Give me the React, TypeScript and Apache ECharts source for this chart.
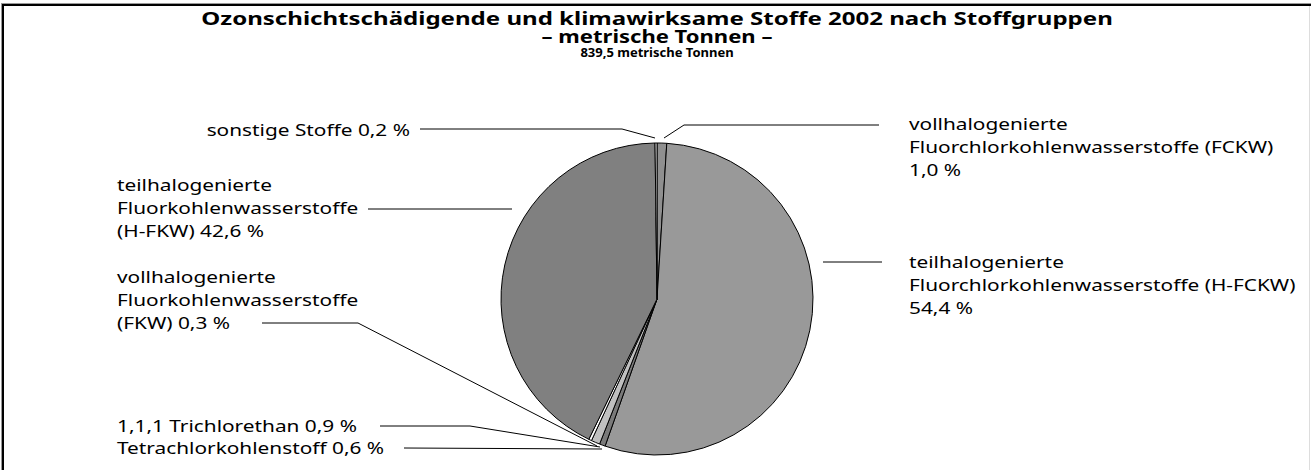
import React, { useEffect, useRef } from "react";
import * as echarts from "echarts";

const titleLines = [
  "Ozonschichtschädigende und klimawirksame Stoffe 2002 nach Stoffgruppen",
  "– metrische Tonnen –",
];
const subtitle = "839,5 metrische Tonnen";

// clockwise from 12 o'clock
const categories = [
  "vollhalogenierte\nFluorchlorkohlenwasserstoffe (FCKW)\n",
  "teilhalogenierte\nFluorchlorkohlenwasserstoffe (H-FCKW)\n",
  "Tetrachlorkohlenstoff ",
  "1,1,1 Trichlorethan ",
  "vollhalogenierte\nFluorkohlenwasserstoffe\n(FKW) ",
  "teilhalogenierte\nFluorkohlenwasserstoffe\n(H-FKW) ",
  "sonstige Stoffe ",
];
const shares = [1.0, 54.4, 0.6, 0.9, 0.3, 42.6, 0.2];
const sliceColors = ["#8f8f8f", "#999999", "#7a7a7a", "#c0c0c0", "#ffffff", "#808080", "#ffffff"];

// label layout (annotation positions)
const labelLayout = [
  { x: 909, y: 112, align: "left", line: [[664, 138], [684, 125], [879, 125]] },
  { x: 909, y: 250, align: "left", line: [[823, 262], [882, 262]] },
  { x: 117, y: 436, align: "left", line: [[404, 448], [602, 449]] },
  { x: 117, y: 414, align: "left", line: [[380, 426], [470, 426], [600, 447]] },
  { x: 117, y: 265, align: "left", line: [[262, 323], [358, 323], [597, 446]] },
  { x: 117, y: 173, align: "left", line: [[368, 209], [512, 209]] },
  { x: 410, y: 118, align: "right", line: [[420, 129], [622, 129], [655, 138]] },
];

const FONT = "'Noto Sans', 'Open Sans', sans-serif";
const LABEL_SCALE = 1.225;

function fmt(v: number) {
  return v.toFixed(1).replace(".", ",") + " %";
}

export default function App() {
  const ref = useRef<HTMLDivElement>(null);
  useEffect(() => {
    if (!ref.current) return;
    const chart = echarts.init(ref.current, null, { renderer: "svg" });
    const graphics: any[] = [
      { type: "rect", shape: { x: 1, y: 3, width: 1310, height: 1 }, style: { fill: "#999" } },
      { type: "rect", shape: { x: 2, y: 4, width: 1309, height: 2 }, style: { fill: "#000" } },
      { type: "rect", shape: { x: 1, y: 4, width: 1, height: 466 }, style: { fill: "#999" } },
      { type: "rect", shape: { x: 2, y: 4, width: 2, height: 466 }, style: { fill: "#000" } },
      { type: "rect", shape: { x: 1309, y: 6, width: 1, height: 464 }, style: { fill: "#ddd" } },
      {
        type: "text", x: 657, y: 18, scaleX: 1.336,
        style: { text: titleLines[0], font: `bold 18px ${FONT}`, fill: "#000", align: "center", verticalAlign: "middle", lineHeight: 17 },
      },
      {
        type: "text", x: 657, y: 36, scaleX: 1.225,
        style: { text: titleLines[1], font: `bold 18px ${FONT}`, fill: "#000", align: "center", verticalAlign: "middle", lineHeight: 16 },
      },
      {
        type: "text", x: 657, y: 52,
        style: { text: subtitle, font: `bold 13px ${FONT}`, fill: "#000", align: "center", verticalAlign: "middle", lineHeight: 14 },
      },
    ];
    categories.forEach((c, i) => {
      const l = labelLayout[i];
      graphics.push({
        type: "text",
        x: l.x,
        y: l.y,
        scaleX: LABEL_SCALE,
        style: {
          text: c + fmt(shares[i]),
          font: `17px ${FONT}`,
          fill: "#000",
          align: l.align,
          verticalAlign: "top",
          lineHeight: 23,
        },
      });
      graphics.push({
        type: "polyline",
        shape: { points: l.line },
        style: { stroke: "#000", lineWidth: 1, fill: null },
        z: 10,
      });
    });
    chart.setOption({
      animation: false,
      backgroundColor: "#fff",
      graphic: graphics,
      series: [
        {
          type: "pie",
          center: [657, 299],
          radius: [0, 156],
          startAngle: 90,
          clockwise: true,
          avoidLabelOverlap: false,
          label: { show: false },
          labelLine: { show: false },
          itemStyle: { borderColor: "#000", borderWidth: 1 },
          emphasis: { disabled: true },
          data: categories.map((c, i) => ({
            name: c.trim(),
            value: shares[i],
            itemStyle: { color: sliceColors[i] },
          })),
        },
      ],
    });
    return () => chart.dispose();
  }, []);
  return (
    <div
      ref={ref}
      style={{ position: "absolute", left: 0, top: 0, width: 1311, height: 470 }}
    />
  );
}
